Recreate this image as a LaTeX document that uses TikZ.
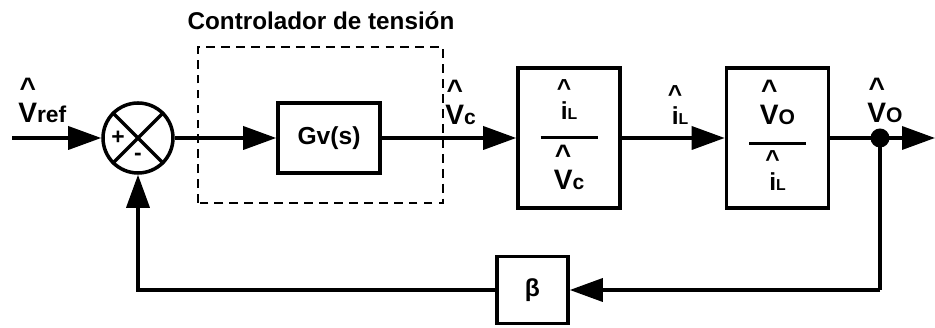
\documentclass[tikz,border=0pt]{standalone}
\usepackage{fontspec}
\setmainfont{Liberation Sans}
\usetikzlibrary{arrows.meta}

\newcommand{\hatsym}[1]{\begin{tabular}[b]{@{}c@{}}\makebox[0pt]{\textasciicircum}\\[-0.4ex]#1\end{tabular}}
\newcommand{\fracbar}{\rule[0.35ex]{1.14cm}{2pt}}

\tikzset{
  blk/.style={draw, line width=2pt, minimum width=2.04cm, inner sep=0pt},
  sig/.style={line width=2pt, -{Triangle[length=0.66cm,width=0.46cm]}},
  wire/.style={line width=2pt},
  lbl/.style={font=\bfseries\fontsize{16}{18}\selectfont, inner sep=0pt}
}

\begin{document}
\begin{tikzpicture}[font=\bfseries\fontsize{14}{16}\selectfont]
\useasboundingbox (0,0) rectangle (18.7,6.56);

% controller frame
\draw[dashed, line width=1.2pt, dash pattern=on 5pt off 3.5pt] (3.96,2.5) rectangle (8.86,5.62);
\node[font=\bfseries\fontsize{13.8}{15}\selectfont] (title) at (6.42,6.14) {Controlador de tensión};

% blocks
\node[draw, circle, line width=2pt, minimum size=1.4cm, inner sep=0pt] (sum) at (2.76,3.8) {};
\draw[wire] (sum.45) -- (sum.225) (sum.135) -- (sum.315);
\node[font=\bfseries\fontsize{13}{14}\selectfont, inner sep=0pt] (plus) at (2.36,3.8) {+};
\node[font=\bfseries\fontsize{13}{14}\selectfont, inner sep=0pt] (minus) at (2.76,3.42) {-};

\node[blk, minimum height=1.4cm] (gv) at (6.58,3.8) {Gv(s)};
\node[blk, minimum height=2.8cm, align=center] (plant1) at (11.38,3.8)
  {\hatsym{i}{\small L}\\[-2pt]\fracbar\\[-2pt]\fontsize{16}{18}\selectfont\hatsym{V}{\fontsize{12}{14}\selectfont c}};
\node[blk, minimum height=2.8cm, align=center] (plant2) at (15.55,3.8)
  {\fontsize{16}{18}\selectfont\hatsym{V}{\fontsize{12}{14}\selectfont O}\\[-2pt]\fracbar\\[-2pt]\fontsize{14}{16}\selectfont\hatsym{i}{\small L}};
\node[blk, minimum width=1.42cm, minimum height=1.34cm] (beta) at (10.65,0.76) {β};

% points
\coordinate (in) at (0.24,3.8);
\coordinate (out) at (18.7,3.8);
\fill (17.6,3.8) circle (0.19) coordinate (tap);
\coordinate (fbr) at (17.6,0.76);
\coordinate (fbl) at (2.76,0.76);

% signals
\draw[sig] (in) -- (sum);
\draw[sig] (sum) -- (gv);
\draw[sig] (gv) -- (plant1);
\draw[sig] (plant1) -- (plant2);
\draw[sig] (plant2) -- (out);
\draw[wire] (tap) -- (fbr);
\draw[sig] (fbr) -- (beta);
\draw[sig] (beta.west) -- (fbl) -- (sum);

% labels
\node[lbl, anchor=base west] (vref) at (0.36,4.1) {\hatsym{V}{\fontsize{13}{14}\selectfont ref}};
\node[lbl, anchor=base west] (vc) at (8.9,4.06) {\hatsym{V}{\fontsize{12}{14}\selectfont c}};
\node[lbl, anchor=base, font=\bfseries\fontsize{14}{16}\selectfont] (il) at (13.6,4.06) {\hatsym{i}{\small L}};
\node[lbl, anchor=base west] (vo) at (17.34,4.1) {\hatsym{V}{\fontsize{12}{14}\selectfont O}};
\end{tikzpicture}
\end{document}
